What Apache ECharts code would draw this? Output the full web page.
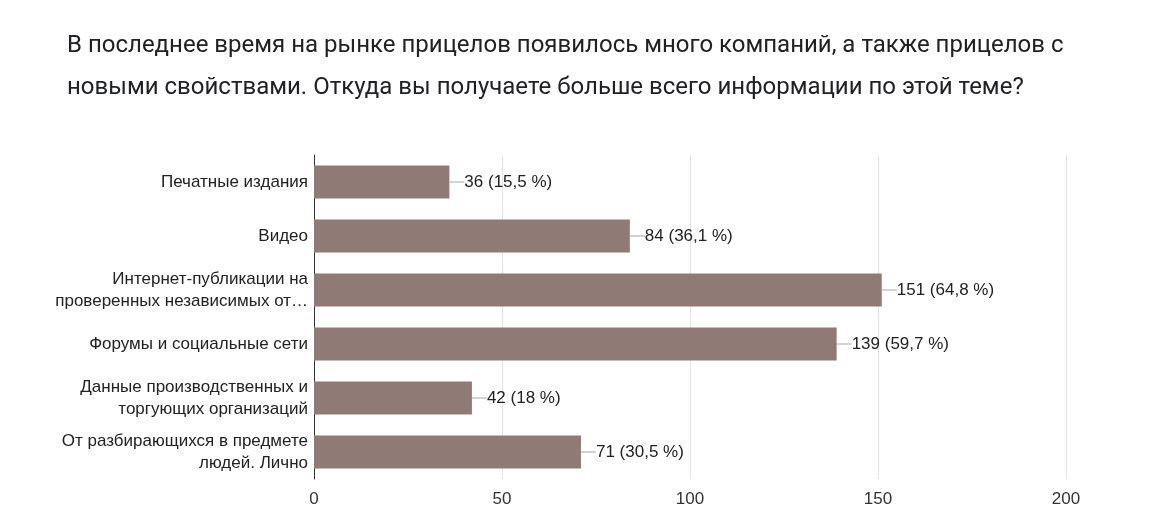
<!DOCTYPE html>
<html><head><meta charset="utf-8">
<script src="https://cdn.jsdelivr.net/npm/echarts@6/dist/echarts.min.js"></script>
<style>body{margin:0;background:#fff}#c{width:1154px;height:529px}</style></head>
<body><div id="c"></div>
<script>
const categories = ["Печатные издания","Видео","Интернет-публикации на\nпроверенных независимых от…","Форумы и социальные сети","Данные производственных и\nторгующих организаций","От разбирающихся в предмете\nлюдей. Лично"];
const values = [36,84,151,139,42,71];
const percents = ["15,5","36,1","64,8","59,7","18","30,5"];
const xTicks = [0,50,100,150,200];
const F = "Liberation Sans";
const chart = echarts.init(document.getElementById('c'));
chart.setOption({
  animation:false,
  title:{text:"В последнее время на рынке прицелов появилось много компаний, а также прицелов с\nновыми свойствами. Откуда вы получаете больше всего информации по этой теме?",
    left:62,top:20,textStyle:{fontFamily:"Roboto",fontSize:24,fontWeight:'normal',color:'#202124',lineHeight:42}},
  grid:{left:314,right:88,top:155,bottom:50},
  xAxis:{type:'value',min:xTicks[0],max:xTicks[xTicks.length-1],interval:50,
    axisLabel:{fontFamily:F,fontSize:17,color:'#333',margin:12},
    splitLine:{lineStyle:{color:'#e3e3e3'}},axisLine:{show:false}},
  yAxis:{type:'category',inverse:true,data:categories,
    axisTick:{show:false},axisLine:{show:true,lineStyle:{color:'#333'}},
    axisLabel:{fontFamily:F,fontSize:17,color:'#222',lineHeight:22,margin:6}},
  series:[{type:'bar',data:values,barWidth:'61%',itemStyle:{color:'#8f7a76'},
    label:{show:true,position:'right',distance:0,
      formatter:p=>'{d|}{v|'+p.value+' ('+percents[p.dataIndex]+' %)}',
      rich:{d:{width:15,height:0,borderColor:'#999',borderWidth:0.5},v:{color:'#222',fontSize:17,fontFamily:F}}}}]
});
</script></body></html>
